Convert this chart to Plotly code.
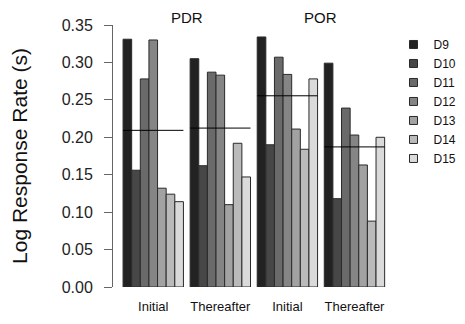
import plotly.graph_objects as go

groups = ["Initial", "Thereafter", "Initial", "Thereafter"]
panels = ["PDR", "POR"]
series = ["D9", "D10", "D11", "D12", "D13", "D14", "D15"]
D9 = [0.331, 0.305, 0.334, 0.299]
D10 = [0.156, 0.162, 0.190, 0.118]
D11 = [0.278, 0.287, 0.307, 0.239]
D12 = [0.330, 0.283, 0.284, 0.203]
D13 = [0.132, 0.110, 0.211, 0.163]
D14 = [0.124, 0.192, 0.184, 0.088]
D15 = [0.114, 0.147, 0.278, 0.200]
values = [D9, D10, D11, D12, D13, D14, D15]
colors = ["#222222", "#474747", "#6a6a6a", "#858585", "#a2a2a2", "#bababa", "#dadada"]

bargap = 0.1
xs = list(range(len(groups)))

fig = go.Figure()
for name, vals, col in zip(series, values, colors):
    fig.add_trace(go.Bar(x=xs, y=vals, name=name, marker=dict(color=col, line=dict(color="#2a2a2a", width=1)),
                         showlegend=False, legendgroup=name))
    fig.add_trace(go.Scatter(x=[None], y=[None], mode="markers", name=name, legendgroup=name,
                             marker=dict(symbol="square", size=8, color=col, line=dict(color="#2a2a2a", width=1))))

half = (1 - bargap) / 2
for i in xs:
    m = sum(v[i] for v in values) / len(values)
    fig.add_trace(go.Scatter(x=[i - half, i + half], y=[m, m], mode="lines",
                             line=dict(color="black", width=1), showlegend=False, hoverinfo="skip"))

for j, p in enumerate(panels):
    fig.add_annotation(x=2 * j + 0.5, xref="x", y=1.03, yref="paper", yanchor="middle", text=p,
                       showarrow=False, font=dict(size=15, color="#111", family="Liberation Sans"))

fig.update_layout(
    width=457, height=308,
    margin=dict(l=105, r=77, t=17, b=29, autoexpand=False),
    barmode="group", bargap=bargap, bargroupgap=0,
    plot_bgcolor="white", paper_bgcolor="white",
    font=dict(family="Liberation Sans", color="#111"),
    legend=dict(x=1.02, y=0.981, xanchor="left", yanchor="top", font=dict(size=12),
                bgcolor="rgba(0,0,0,0)", tracegroupgap=0),
    xaxis=dict(range=[-0.6, 3.5], tickmode="array", tickvals=xs, ticktext=groups, automargin=False,
               showline=False, showgrid=False, zeroline=False, ticks="",
               tickfont=dict(size=13), ticklabelstandoff=10),
    yaxis=dict(range=[0, 0.35], dtick=0.05, tickformat=".2f", showline=True, linecolor="#666",
               linewidth=1, ticks="outside", ticklen=8, tickcolor="#666", showgrid=False, zeroline=False,
               automargin=False,
               tickfont=dict(size=16, color="#222"), ticklabelstandoff=8,
               title=dict(text="Log Response Rate (s)", font=dict(size=21, color="#111"), standoff=33)),
)

fig.write_html("out.html")
